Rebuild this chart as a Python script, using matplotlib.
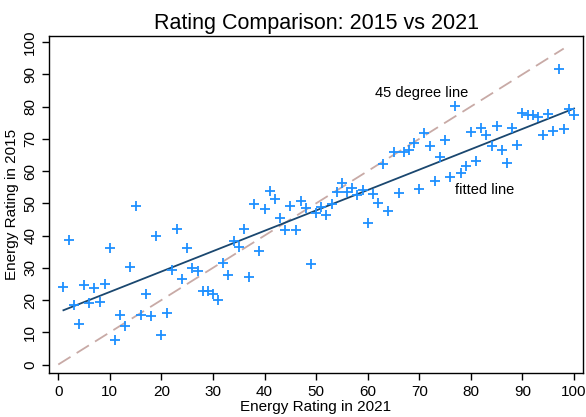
import numpy as np
import matplotlib
matplotlib.use("Agg")
import matplotlib.pyplot as plt

plt.rcParams['font.family'] = ['Liberation Sans', 'DejaVu Sans']

# energy ratings per property, 2021 vs 2015
rating_2021 = list(range(1, 101))
rating_2015 = [
    24.1, 38.7, 18.4, 12.6, 24.6, 19.0, 23.7, 19.3, 25.0, 36.1,
    7.7, 15.3, 11.9, 30.3, 49.1, 15.3, 21.8, 14.9, 39.8, 9.1,
    15.9, 29.3, 41.9, 26.6, 36.0, 30.0, 28.9, 22.9, 22.9, 21.9,
    20.1, 31.4, 27.8, 38.3, 36.5, 41.9, 27.0, 49.7, 35.2, 48.2,
    53.7, 51.4, 45.3, 41.7, 49.1, 41.8, 50.8, 48.5, 31.3, 46.9,
    48.9, 46.4, 49.8, 53.4, 56.2, 53.5, 54.6, 52.6, 54.1, 43.9,
    52.8, 50.0, 62.1, 47.7, 66.0, 53.3, 65.9, 66.5, 68.8, 54.4,
    71.9, 67.8, 56.9, 64.4, 69.5, 58.2, 80.1, 59.5, 61.6, 72.2,
    63.1, 73.4, 71.1, 67.7, 74.0, 66.6, 62.5, 73.4, 68.2, 78.0,
    77.5, 77.5, 76.8, 71.1, 77.8, 72.5, 91.8, 73.2, 79.2, 77.4,
]

# coefficients of the fitted line (intercept, slope)
fit_intercept = 16.2
fit_slope = 0.632

x = np.array(rating_2021, dtype=float)
y = np.array(rating_2015)

fig = plt.figure(figsize=(5.86, 4.17), dpi=100)
ax = fig.add_axes([0.0836, 0.105, 0.9114, 0.8087])

# 45 degree reference line
ax.plot([0, 98], [0, 98], color='#c8aaa6', lw=1.3, dashes=(8, 4), zorder=1)

ax.plot(x, y, linestyle='none', marker='+', markersize=6.5, mew=1.3,
        color='#1e90ff', zorder=3)

xs = np.array([x.min(), x.max()])
ax.plot(xs, fit_intercept + fit_slope * xs, color='#1a476f', lw=1.3, zorder=2)

ax.text(61.4, 84.2, '45 degree line', fontsize=10.5, va='center', ha='left')
ax.text(77, 54.1, 'fitted line', fontsize=10.5, va='center', ha='left')

ax.set_xlim(-1.8, 101.75)
ax.set_ylim(-2.7, 101.9)
ax.set_xticks(range(0, 101, 10))
ax.set_yticks(range(0, 101, 10))
ax.tick_params(axis='both', direction='out', length=5, width=1, labelsize=11)
for lab in ax.get_yticklabels():
    lab.set_rotation(90)
    lab.set_va('center')

for sp in ax.spines.values():
    sp.set_color('black')
    sp.set_linewidth(1.0)

ax.set_title('Rating Comparison: 2015 vs 2021', fontsize=15.5, pad=5)
ax.set_xlabel('Energy Rating in 2021', fontsize=11, labelpad=1)
ax.set_ylabel('Energy Rating in 2015', fontsize=11, labelpad=3)

fig.savefig('out.png', dpi=100)
